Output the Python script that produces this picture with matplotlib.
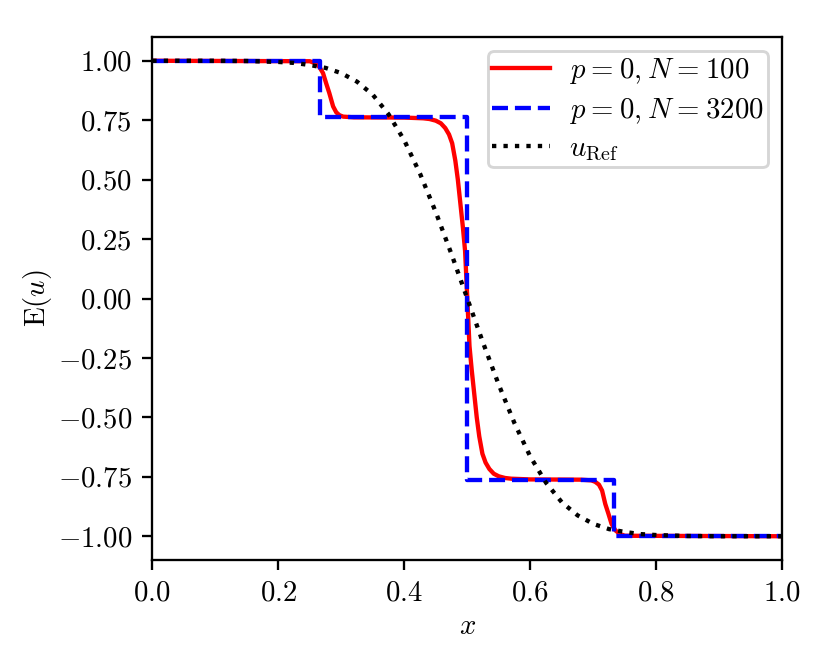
import matplotlib
matplotlib.use("Agg")
import matplotlib.pyplot as plt

# ---- data ----
x_n100 = [0.0, 0.25, 0.258, 0.265, 0.271, 0.276, 0.281, 0.287, 0.292, 0.297, 0.303, 0.32,
          0.40, 0.43, 0.44, 0.45, 0.458, 0.465, 0.471, 0.476, 0.481, 0.485, 0.489, 0.493,
          0.4965, 0.5,
          0.5035, 0.507, 0.511, 0.515, 0.519, 0.524, 0.529, 0.535, 0.542, 0.55, 0.56, 0.57,
          0.60, 0.68, 0.697, 0.703, 0.709, 0.714, 0.719, 0.724, 0.729, 0.735, 0.742, 0.75, 1.0]
y_n100 = [1.0, 0.998, 0.99, 0.975, 0.948, 0.905, 0.864, 0.808, 0.783, 0.771, 0.765, 0.762,
          0.761, 0.758, 0.755, 0.748, 0.737, 0.717, 0.69, 0.653, 0.58, 0.50, 0.40, 0.30,
          0.20, 0.0,
          -0.20, -0.30, -0.40, -0.50, -0.58, -0.653, -0.69, -0.717, -0.737, -0.748, -0.755, -0.758,
          -0.761, -0.762, -0.765, -0.771, -0.783, -0.808, -0.864, -0.905, -0.948, -0.975, -0.99, -0.998, -1.0]

x_n3200 = [0.0, 0.2667, 0.2667, 0.4995, 0.4995, 0.7333, 0.7333, 1.0]
y_n3200 = [1.0, 1.0, 0.762, 0.762, -0.762, -0.762, -1.0, -1.0]

x_ref = [0.0, 0.05, 0.1, 0.15, 0.2, 0.225, 0.25, 0.275, 0.3, 0.325, 0.35, 0.375, 0.4,
         0.425, 0.45, 0.475, 0.5, 0.525, 0.55, 0.575, 0.6, 0.625, 0.65, 0.675, 0.7,
         0.725, 0.75, 0.775, 0.8, 0.85, 0.9, 0.95, 1.0]
y_ref = [1.0, 1.0, 1.0, 0.999, 0.995, 0.991, 0.982, 0.970, 0.948, 0.912, 0.857, 0.775, 0.665,
         0.525, 0.363, 0.186, 0.0, -0.186, -0.363, -0.525, -0.665, -0.775, -0.857, -0.912, -0.948,
         -0.970, -0.982, -0.991, -0.995, -0.999, -1.0, -1.0, -1.0]

labels = [r'$p\hspace{0.05}=\hspace{0.05}0, N\hspace{0.05}=\hspace{0.05}100$',
          r'$p\hspace{0.05}=\hspace{0.05}0, N\hspace{0.05}=\hspace{0.05}3200$',
          r'$u_{\mathrm{Ref}}$']

# ---- style ----
plt.rcParams['font.family'] = 'serif'
plt.rcParams['font.serif'] = ['cmr10']
plt.rcParams['mathtext.fontset'] = 'cm'
plt.rcParams['axes.formatter.use_mathtext'] = True
plt.rcParams['font.size'] = 10

fig = plt.figure(figsize=(4, 3.2), dpi=207.5)
ax = fig.add_axes([0.1835, 0.1566, 0.759, 0.7877])

ax.plot(x_n100, y_n100, '-', color='red', lw=1.5, label=labels[0])
ax.plot(x_n3200, y_n3200, '--', color='blue', lw=1.5, label=labels[1])
ax.plot(x_ref, y_ref, ':', color='black', lw=1.5, label=labels[2])

ax.set_xlim(0, 1)
ax.set_ylim(-1.1, 1.1)
ax.set_xticks([0.0, 0.2, 0.4, 0.6, 0.8, 1.0])
ax.set_yticks([-1.0, -0.75, -0.5, -0.25, 0.0, 0.25, 0.5, 0.75, 1.0])
ax.set_xlabel(r'$x$', labelpad=2.3)
ax.set_ylabel(r'$\mathrm{E}(u)$', labelpad=1.2)
ax.legend(loc='upper right', borderpad=0.15, labelspacing=0.35, handletextpad=0.66)

fig.savefig('out.png', dpi=207.5)
